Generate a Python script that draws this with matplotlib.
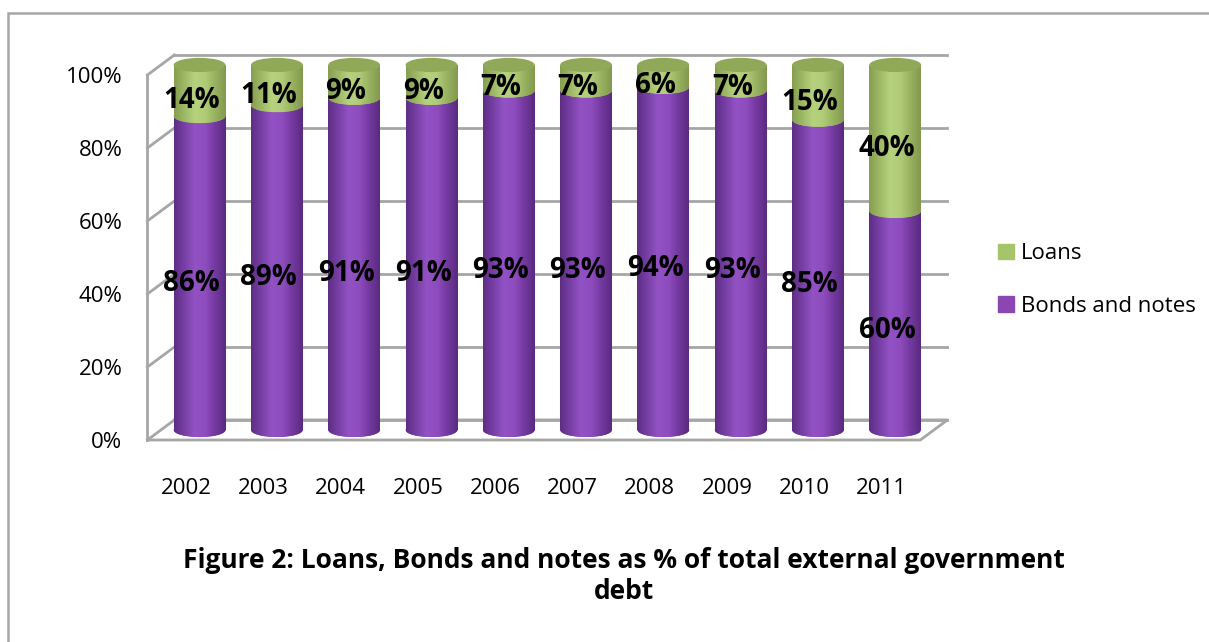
import numpy as np
import matplotlib
matplotlib.use("Agg")
import matplotlib.pyplot as plt
from matplotlib.patches import Ellipse, Patch, Rectangle
from matplotlib.colors import LinearSegmentedColormap

years = ['2002', '2003', '2004', '2005', '2006', '2007', '2008', '2009', '2010', '2011']
bonds = [86, 89, 91, 91, 93, 93, 94, 93, 85, 60]
loans = [14, 11, 9, 9, 7, 7, 6, 7, 15, 40]
yticks = [0, 20, 40, 60, 80, 100]

plt.rcParams['font.family'] = ['Open Sans', 'DejaVu Sans']

purple = LinearSegmentedColormap.from_list(
    'purple', ['#5E2E85', '#7840A6', '#9352C4', '#8E4DBE', '#7439A0', '#5A2B80'])
green = LinearSegmentedColormap.from_list(
    'green', ['#879F50', '#9EB966', '#B7D27F', '#B1CC78', '#98B261', '#83994D'])
cap = LinearSegmentedColormap.from_list(
    'cap', ['#7F9549', '#90A959', '#9CB665', '#98B161', '#8AA254', '#7B9146'])
grid_c = '#A6A6A6'

fig = plt.figure(figsize=(12.09, 6.42), dpi=100)
ax = fig.add_axes([147.4 / 1209, 202 / 642, 773 / 1209, 365 / 642])
ax.set_xlim(-0.5, 9.5)
ax.set_ylim(0, 100)
for s in ax.spines.values():
    s.set_visible(False)

# depth of the 3d box in data units
DX, DY = 0.35, 5.5
W, EH = 0.67, 3.9
x = np.arange(len(years))
xc = x + DX / 2

# walls and floor
for v in yticks:
    ax.plot([-0.5 + DX, 9.5 + DX], [v + DY, v + DY], color=grid_c, lw=2, zorder=1, clip_on=False)
    ax.plot([-0.5, -0.5 + DX], [v, v + DY], color=grid_c, lw=2, zorder=1, clip_on=False)
ax.plot([-0.5, -0.5], [0, 100], color=grid_c, lw=2, zorder=1, clip_on=False)
ax.plot([-0.5, 9.5, 9.5 + DX, -0.5 + DX], [0, 0, DY, DY], color=grid_c, lw=2, zorder=1, clip_on=False)

grad = np.linspace(0, 1, 64).reshape(1, -1)


def shade(patch, cmap, z):
    if patch.axes is None:
        ax.add_patch(patch)
    bb = patch.get_path().get_extents(patch.get_patch_transform())
    im = ax.imshow(grad, cmap=cmap, aspect='auto', extent=(bb.x0, bb.x1, bb.y0, bb.y1),
                   zorder=z, interpolation='bilinear')
    im.set_clip_path(patch)


base = DY / 2
for i in range(len(years)):
    e = Ellipse((xc[i], base), W, EH, facecolor='#7A40A8', edgecolor='none', zorder=2, clip_on=False)
    shade(e, purple, 2.1)
    e = Ellipse((xc[i], base + bonds[i]), W, EH, facecolor='#9EB966', edgecolor='none', zorder=4, clip_on=False)
    shade(e, green, 4.1)
    e = Ellipse((xc[i], base + bonds[i] + loans[i]), W, EH, facecolor='#90A959', edgecolor='none', zorder=6, clip_on=False)
    shade(e, cap, 6.1)

b1 = ax.bar(xc, bonds, W, bottom=base, color='#8A47B2', zorder=3, clip_on=False)
b2 = ax.bar(xc, loans, W, bottom=base + np.array(bonds), color='#A6C46A', zorder=5, clip_on=False)
for r in b1:
    shade(r, purple, 3.1)
for r in b2:
    shade(r, green, 5.1)

ax.set_xlim(-0.5, 9.5)
ax.set_ylim(0, 100)

# data labels
for i in range(len(years)):
    ax.text(x[i] + 0.07, bonds[i] / 2, f"{bonds[i]}%", ha='center', va='center',
            fontsize=20, fontweight='bold', zorder=10)
    ax.text(x[i] + 0.07, bonds[i] + loans[i] / 2, f"{loans[i]}%", ha='center', va='center',
            fontsize=20, fontweight='bold', zorder=10)

ax.set_xticks(x, years)
ax.set_yticks(yticks, [f"{v}%" for v in yticks])
ax.tick_params(axis='both', length=0, labelsize=16)
ax.tick_params(axis='x', pad=27)
ax.tick_params(axis='y', pad=18)

fig.legend(handles=[Patch(color='#A6C46A', label='Loans'),
                    Patch(color='#8A47B2', label='Bonds and notes')],
           loc='center left', bbox_to_anchor=(978 / 1209, 1 - 280 / 642),
           frameon=False, fontsize=16, handlelength=0.7, handleheight=0.7,
           handletextpad=0.35, labelspacing=1.4)

fig.text(624 / 1209, 1 - 576 / 642,
         "Figure 2: Loans, Bonds and notes as % of total external government\ndebt",
         ha='center', va='center', multialignment='center', fontsize=19,
         fontweight='bold', linespacing=1.2)

fig.add_artist(Rectangle((8 / 1209, -0.1), 1.2, 0.1 + 1 - 13 / 642, transform=fig.transFigure,
                         fill=False, edgecolor=grid_c, lw=1.8))

fig.savefig("out.png", dpi=100)
